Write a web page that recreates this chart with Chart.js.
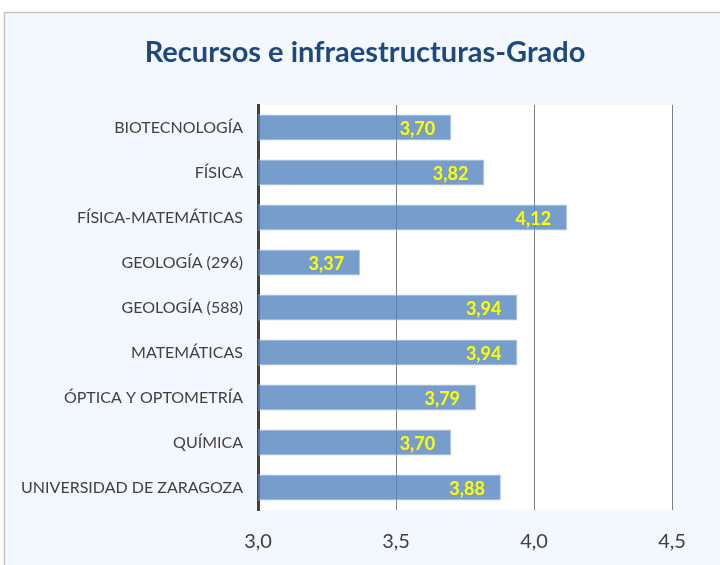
<!DOCTYPE html>
<html>
<head>
<meta charset="utf-8">
<script src="https://cdn.jsdelivr.net/npm/chart.js@4"></script>
<style>
  body { margin: 0; background: #fff; }
  #wrap { width: 720px; height: 565px; position: relative; }
</style>
</head>
<body>
<div id="wrap"><canvas id="recursos_graph"></canvas></div>
<script>
const titulo = "Recursos e infraestructuras-Grado";
const grados = [
  "BIOTECNOLOGÍA",
  "FÍSICA",
  "FÍSICA-MATEMÁTICAS",
  "GEOLOGÍA (296)",
  "GEOLOGÍA (588)",
  "MATEMÁTICAS",
  "ÓPTICA Y OPTOMETRÍA",
  "QUÍMICA",
  "UNIVERSIDAD DE ZARAGOZA",
];
const medias = [3.70, 3.82, 4.12, 3.37, 3.94, 3.94, 3.79, 3.70, 3.88];

const fmt = (v, d) => v.toFixed(d).replace(".", ",");

// fondo del grafico, marco, area blanca y titulo
const fondo = {
  id: "fondo",
  beforeDraw(chart) {
    const c = chart.ctx;
    const a = chart.chartArea;
    c.save();
    c.fillStyle = "#ffffff";
    c.fillRect(0, 0, chart.width, chart.height);
    c.fillStyle = "#F3F8FE";
    c.fillRect(4, 12, chart.width, chart.height);
    c.strokeStyle = "#C4C4C4";
    c.lineWidth = 1.5;
    c.strokeRect(4.5, 12.5, chart.width + 10, chart.height + 10);
    c.fillStyle = "#ffffff";
    c.fillRect(a.left, a.top, a.right - a.left, a.bottom - a.top);
    // titulo
    c.font = "bold 29px Lato";
    c.fillStyle = "#1F497D";
    c.textAlign = "center";
    c.textBaseline = "middle";
    c.fillText(titulo, 365, 53);
    c.restore();
  },
};

// etiquetas con el valor dentro de cada barra
const etiquetas = {
  id: "etiquetas",
  afterDatasetsDraw(chart) {
    const c = chart.ctx;
    const meta = chart.getDatasetMeta(0);
    c.save();
    c.font = "bold 18px Lato";
    c.fillStyle = "#FFFF00";
    c.textAlign = "right";
    c.textBaseline = "middle";
    meta.data.forEach((bar, i) => {
      c.fillText(fmt(medias[i], 2), bar.x - 16, bar.y + 2);
    });
    c.restore();
  },
};

new Chart(document.getElementById("recursos_graph"), {
  type: "bar",
  data: {
    labels: grados,
    datasets: [
      {
        label: "Media",
        data: medias,
        backgroundColor: "rgba(79,129,189,0.78)",
        borderColor: "#B4C9E8",
        borderWidth: 1,
        barPercentage: 0.58,
        categoryPercentage: 1,
      },
    ],
  },
  options: {
    indexAxis: "y",
    responsive: true,
    maintainAspectRatio: false,
    animation: false,
    layout: {
      padding: { left: 0, right: 48, top: 105, bottom: 11 },
    },
    scales: {
      x: {
        min: 3,
        max: 4.5,
        afterFit: (scale) => { scale.height = 44; },
        ticks: {
          stepSize: 0.5,
          padding: 20,
          color: "#404040",
          font: { family: "Lato", size: 20 },
          callback: (v) => fmt(v, 1),
        },
        grid: { color: "#7F7F7F", lineWidth: 1, drawTicks: false },
        border: { display: false },
      },
      y: {
        afterFit: (scale) => { scale.width = 258; },
        ticks: {
          padding: 15,
          color: "#404040",
          font: { family: "Lato", size: 16 },
        },
        grid: { display: false, drawTicks: false },
        border: { color: "#404040", width: 3 },
      },
    },
    plugins: {
      legend: { display: false },
      tooltip: { enabled: false },
      title: { display: false },
    },
  },
  plugins: [fondo, etiquetas],
});
</script>
</body>
</html>
